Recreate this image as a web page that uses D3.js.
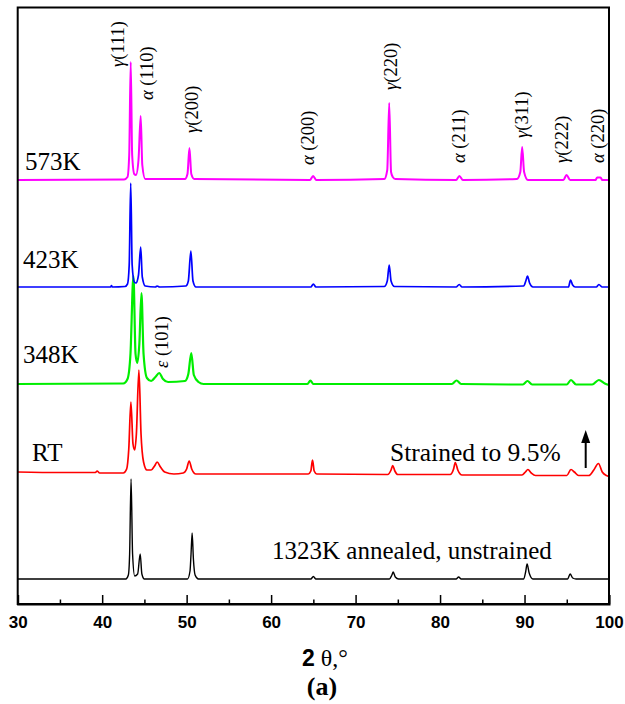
<!DOCTYPE html>
<html>
<head>
<meta charset="utf-8">
<script src="https://d3js.org/d3.v7.min.js"></script>
<style>
  body { margin: 0; background: #fff; }
  svg { display: block; }
</style>
</head>
<body>
<svg id="svg1"></svg>
<script>
// XRD patterns, [2theta, intensity above own baseline]
const annealed = [[30,0],[42.8,0],[43.1,4],[43.25,25],[43.42,100],[43.6,25],[43.85,3],[44.2,5],[44.5,25],[44.7,5],[45.0,0],
  [50.1,0],[50.4,8],[50.52,25],[50.65,46],[50.8,20],[51.0,4],[51.4,0],[64.7,0],[65.0,2.5],[65.3,0],
  [74.0,0],[74.3,4],[74.45,7],[74.7,2],[75.1,0],[81.9,0],[82.2,2],[82.5,0],
  [89.9,0],[90.15,8],[90.3,15],[90.55,6],[91.0,0],[95.1,0],[95.4,5],[95.7,1],[96.1,0],[100,0]];

const roomTemp = [[30,2],[35,1.5],[39.2,1.5],[39.4,3],[39.7,1],[42.5,1],[42.9,5],[43.15,25],[43.4,72],[43.65,30],[43.85,24],
  [44.05,40],[44.35,104],[44.6,40],[44.9,12],[45.3,4],[45.8,4],[46.2,8],[46.5,12],[46.9,7],[47.4,2],[48.5,0],
  [49.6,1],[50.0,5],[50.3,13],[50.6,5],[51.1,0],[64.4,0],[64.7,3],[64.9,14],[65.1,3],[65.4,0],
  [73.8,-0.5],[74.2,4],[74.4,8.5],[74.65,3],[75,-0.5],[81.2,-0.5],[81.6,5],[81.8,11.5],[82.1,4],[82.6,-1],
  [89.7,-1],[90.1,2],[90.4,4.5],[90.8,1],[91.3,-1.5],[95.0,-1.5],[95.5,4.5],[95.9,2],[96.4,-1.5],
  [97.6,-1.5],[98.2,4],[98.75,10.5],[99.2,2],[99.7,-1.5],[100,-2.5]];

const at348K = [[30,0],[42.5,0.5],[43.0,5],[43.35,30],[43.7,108],[43.95,30],[44.15,21],[44.4,40],[44.65,91],[44.9,30],
  [45.3,6],[45.8,3],[46.3,7],[46.75,11],[47.2,5],[47.8,2],[49.8,3],[50.2,10],[50.55,31],[50.85,9],[51.4,2],[52,0],
  [64.3,0],[64.65,3.5],[65.0,0],[81.4,0],[81.95,3.5],[82.5,0],[89.8,-0.5],[90.35,3],[90.9,-0.5],
  [95.0,-0.5],[95.5,4],[96.1,-0.5],[98.0,-0.5],[98.8,4],[99.5,0.5],[100,-1]];

const at423K = [[30,0],[41,0],[41.1,1.5],[41.2,0],[42.7,0.5],[43.0,3],[43.2,22],[43.38,104],[43.55,22],[43.8,5],[44.0,4],
  [44.3,12],[44.56,40],[44.75,10],[45.1,1],[46.3,0],[46.5,1],[46.8,0],[49.9,1],[50.2,6],[50.5,36],[50.75,6],[51.1,0],
  [64.7,0],[65.0,3],[65.3,0],[73.4,0.5],[73.75,6],[73.98,22],[74.2,6],[74.6,0.5],[81.9,0],[82.27,2.5],[82.6,0],
  [89.9,1],[90.15,6],[90.35,11],[90.6,4],[91.0,0],[95.2,0],[95.45,7],[95.7,2],[96.0,0],[98.5,0],[98.8,2.5],[99.2,0],[100,0]];

const at573K = [[30,0],[42.6,0.5],[43.0,3],[43.2,25],[43.38,118],[43.55,25],[43.8,6],[44.0,5],[44.3,20],[44.56,64],[44.75,15],
  [45.1,1],[49.8,1],[50.1,6],[50.33,32],[50.55,6],[50.9,1],[64.6,0],[64.97,4],[65.35,0],
  [73.4,1],[73.75,10],[73.98,77],[74.2,8],[74.4,3],[74.7,1],[81.9,0],[82.29,4],[82.7,0],
  [89.1,1],[89.5,8],[89.72,33],[89.95,8],[90.4,0],[94.6,0],[94.97,5],[95.4,0],[98.4,0],[98.6,2.5],[99.0,2.5],[99.2,0],[100,0]];

const patterns = [annealed, roomTemp, at348K, at423K, at573K];
const patternNames = ["1323K annealed, unstrained", "RT", "348K", "423K", "573K"];

// reflections marked on the figure
const peakPhase = ["γ", "α ", "γ", "α ", "γ", "α ", "γ", "γ", "α ", "ε "];
const peakHkl = ["(111)", "(110)", "(200)", "(200)", "(220)", "(211)", "(311)", "(222)", "(220)", "(101)"];

const xTicks = [30, 40, 50, 60, 70, 80, 90, 100];
const xMinorTicks = [35, 45, 55, 65, 75, 85, 95];

function renderChart() {
  const width = 625;
  const height = 704;
  const plot = {left: 17.7, right: 609, top: 7.5, bottom: 604};

  const svg = d3.select('#svg1')
      .attr('width', width)
      .attr('height', height);

  const x = d3.scaleLinear().domain([30, 100]).range([plot.left, plot.right]);
  const y = d3.scaleLinear().domain([0, plot.bottom - plot.top]).range([plot.bottom, plot.top]);

  // stacking of the patterns (bottom to top) and their look
  const offsets = [25, 130, 220, 317, 424];
  const colors = ["#000000", "#ff0000", "#00ee00", "#0000ff", "#ff00ff"];
  const widths = [1.4, 1.7, 2.2, 1.7, 2];

  patterns.forEach(function(p, i) {
    const line = d3.line()
        .x(d => x(d[0]))
        .y(d => y(d[1] + offsets[i]))
        .curve(d3.curveMonotoneX);
    svg.append('path')
        .datum(p)
        .attr('d', line)
        .attr('fill', 'none')
        .attr('stroke', colors[i])
        .attr('stroke-width', widths[i])
        .attr('stroke-linejoin', 'round');
  });

  // frame
  svg.append('rect')
      .attr('x', plot.left).attr('y', plot.top)
      .attr('width', plot.right - plot.left).attr('height', plot.bottom - plot.top)
      .attr('fill', 'none').attr('stroke', '#000').attr('stroke-width', 2);

  // x axis, ticks pointing inward
  const axis = svg.append('g')
      .attr('transform', 'translate(0,' + plot.bottom + ')')
      .call(d3.axisBottom(x).tickValues(xTicks).tickSize(-9).tickPadding(12).tickFormat(d3.format('d')));
  axis.select('.domain').attr('stroke-width', 2);
  axis.selectAll('.tick line').attr('stroke-width', 1.5);
  axis.selectAll('text')
      .attr('font-family', '"Liberation Sans", Arial, sans-serif')
      .attr('font-weight', 'bold')
      .attr('font-size', 17);

  const minor = svg.append('g')
      .attr('transform', 'translate(0,' + plot.bottom + ')')
      .call(d3.axisBottom(x).tickValues(xMinorTicks).tickSize(-4.5).tickFormat(''));
  minor.select('.domain').remove();
  minor.selectAll('.tick line').attr('stroke-width', 1.5);

  const serif = '"Liberation Serif", "Times New Roman", serif';

  // pattern names
  const nameX = [272, 32, 23, 23, 25];
  const nameY = [559, 461, 363, 268, 170];
  patternNames.forEach(function(n, i) {
    svg.append('text')
        .attr('x', nameX[i]).attr('y', nameY[i])
        .attr('font-family', serif).attr('font-size', 25)
        .text(n);
  });

  svg.append('text')
      .attr('x', 390).attr('y', 461)
      .attr('font-family', serif).attr('font-size', 25.5)
      .text('Strained to 9.5%');

  // arrow
  svg.append('line')
      .attr('x1', 585.7).attr('x2', 585.7).attr('y1', 468).attr('y2', 440)
      .attr('stroke', '#000').attr('stroke-width', 2);
  svg.append('path')
      .attr('d', 'M585.7,430 L590.2,443 L581.2,443 Z')
      .attr('fill', '#000');

  // reflection labels, rotated
  const labelTheta = [41.87, 45.3, 50.63, 64.37, 74.16, 82.25, 89.67, 94.4, 98.66, 47.05];
  const labelBottom = [537, 504, 471, 439, 514, 441, 466, 441, 441, 236];
  peakHkl.forEach(function(h, i) {
    const t = svg.append('text')
        .attr('transform', 'translate(' + x(labelTheta[i]) + ',' + y(labelBottom[i]) + ')rotate(-90)')
        .attr('dy', '0.33em')
        .attr('font-family', serif).attr('font-size', 18.5);
    t.append('tspan').attr('font-style', 'italic').text(peakPhase[i]);
    t.append('tspan').text(h);
  });

  // axis title
  const title = svg.append('text')
      .attr('x', 325).attr('y', 666)
      .attr('text-anchor', 'middle');
  title.append('tspan')
      .attr('font-family', '"Liberation Sans", Arial, sans-serif')
      .attr('font-weight', 'bold').attr('font-size', 23)
      .text('2');
  title.append('tspan')
      .attr('font-family', serif).attr('font-size', 24)
      .text(' θ,°');

  svg.append('text')
      .attr('x', 322).attr('y', 695)
      .attr('text-anchor', 'middle')
      .attr('font-family', serif).attr('font-weight', 'bold').attr('font-size', 26)
      .text('(a)');
}

renderChart();
</script>
</body>
</html>
